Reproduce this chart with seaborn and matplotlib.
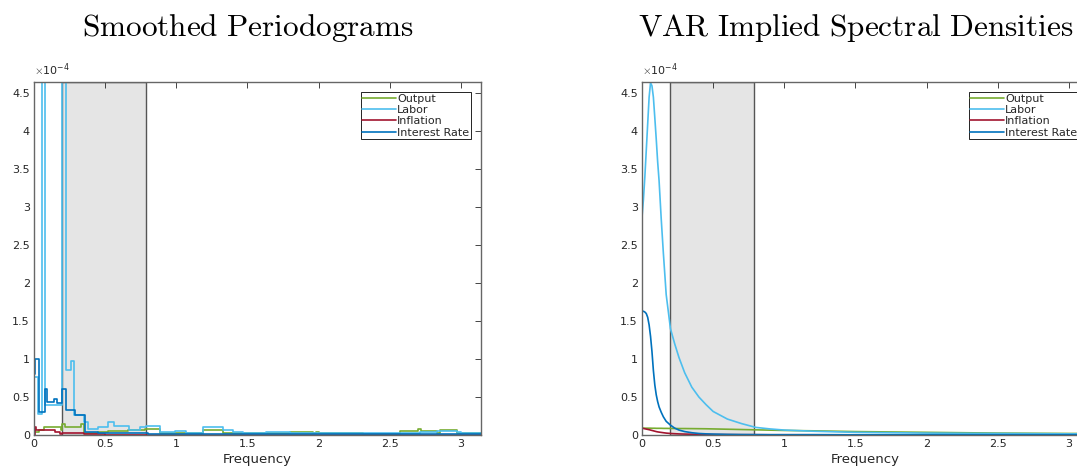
#!/usr/bin/env python3
"""
Smoothed periodograms vs VAR implied spectral densities (values in 1e-4 units).
"""

import numpy as np
import pandas as pd
import matplotlib
matplotlib.use("Agg")
import matplotlib.pyplot as plt
import seaborn as sns

PI = np.pi
SERIES = ["Output", "Labor", "Inflation", "Interest Rate"]
COLORS = {"Output": "#77AC30", "Labor": "#4DBEEE",
          "Inflation": "#A2142F", "Interest Rate": "#0072BD"}

# business cycle band (8-32 quarters)
BAND_LO = 2 * PI / 32
BAND_HI = 2 * PI / 8

# ---- smoothed periodograms (step breakpoints, x 1e-4) ----
pg_freq_output = [0, 0.035, 0.07, 0.19, 0.2, 0.22, 0.33, 0.35, 0.45, 0.52, 0.66,
                  0.78, 0.886, 0.99, 1.19, 1.33, 1.8, 1.96, 1.98, 2.0, 2.29,
                  2.31, 2.57, 2.7, 2.72, 2.83, 2.85, 2.97, 3.04, PI]
pg_output = [0.035, 0.06, 0.1, 0.06, 0.15, 0.1, 0.15, 0.02, 0.035, 0.05, 0.06,
             0.08, 0.02, 0.03, 0.07, 0.03, 0.04, 0.02, 0.04, 0.02, 0.03,
             0.01, 0.05, 0.08, 0.05, 0.02, 0.07, 0.02, 0.03, 0.03]

pg_freq_labor = [0, 0.028, 0.055, 0.075, 0.2, 0.225, 0.26, 0.28, 0.35, 0.38,
                 0.45, 0.52, 0.56, 0.67, 0.745, 0.79, 0.886, 0.957, 0.99,
                 1.07, 1.19, 1.33, 1.4, 1.47, 1.63, 1.8, 2.71, 2.83, 2.97,
                 3.0, PI]
pg_labor = [0.77, 0.28, 6.0, 0.4, 6.0, 0.85, 0.97, 0.27, 0.17, 0.08,
            0.1, 0.17, 0.12, 0.06, 0.1, 0.12, 0.04, 0.035, 0.05,
            0.03, 0.11, 0.07, 0.04, 0.02, 0.04, 0.02, 0.04, 0.05, 0.04,
            0.02, 0.02]

pg_freq_inflation = [0, 0.007, 0.016, 0.15, 0.185, 0.2, 0.35, 0.5, PI]
pg_inflation = [0.0, 0.1, 0.066, 0.035, 0.013, 0.03, 0.01, 0.005, 0.005]

pg_freq_interest = [0, 0.007, 0.035, 0.075, 0.094, 0.14, 0.16, 0.2, 0.225,
                    0.29, 0.36, 0.45, 0.8, 1.2, PI]
pg_interest = [0.8, 1.0, 0.3, 0.61, 0.44, 0.47, 0.42, 0.61, 0.33,
               0.27, 0.04, 0.02, 0.012, 0.008, 0.008]

# ---- VAR implied spectral densities (x 1e-4) ----
var_freq = [0, 0.01, 0.02, 0.03, 0.04, 0.05, 0.06, 0.07, 0.08, 0.09, 0.10,
            0.11, 0.12, 0.135, 0.15, 0.17, 0.2, 0.23, 0.26, 0.3, 0.35, 0.4,
            0.45, 0.5, 0.6, 0.7, 0.8, 0.9, 1.0, 1.2, 1.5, 2.0, 2.5, 3.0, PI]
var_labor = [2.87, 3.1, 3.4, 3.75, 4.1, 4.45, 4.64, 4.6, 4.45, 4.18, 3.9,
             3.6, 3.35, 2.85, 2.4, 1.85, 1.4, 1.2, 1.02, 0.82, 0.63, 0.5,
             0.4, 0.31, 0.21, 0.15, 0.1, 0.08, 0.065, 0.05, 0.035, 0.025,
             0.02, 0.015, 0.015]
var_interest = [1.63, 1.63, 1.62, 1.6, 1.55, 1.45, 1.3, 1.1, 0.85, 0.66, 0.53,
                0.44, 0.37, 0.3, 0.24, 0.18, 0.13, 0.09, 0.065, 0.045, 0.03,
                0.02, 0.015, 0.012, 0.008, 0.006, 0.005, 0.004, 0.004, 0.004,
                0.003, 0.003, 0.003, 0.003, 0.003]
var_output = [0.09, 0.09, 0.09, 0.09, 0.09, 0.09, 0.09, 0.089, 0.089, 0.089,
              0.088, 0.088, 0.088, 0.088, 0.087, 0.087, 0.086, 0.086, 0.085,
              0.085, 0.084, 0.083, 0.082, 0.08, 0.076, 0.072, 0.068, 0.064,
              0.06, 0.055, 0.045, 0.035, 0.025, 0.02, 0.02]
var_inflation = [0.09, 0.086, 0.082, 0.078, 0.074, 0.07, 0.065, 0.06, 0.055,
                 0.05, 0.045, 0.041, 0.038, 0.034, 0.03, 0.025, 0.02, 0.017,
                 0.014, 0.012, 0.01, 0.008, 0.007, 0.006, 0.005, 0.004, 0.004,
                 0.003, 0.003, 0.003, 0.002, 0.002, 0.002, 0.002, 0.002]

periodograms = {
    "Output": (pg_freq_output, pg_output),
    "Labor": (pg_freq_labor, pg_labor),
    "Inflation": (pg_freq_inflation, pg_inflation),
    "Interest Rate": (pg_freq_interest, pg_interest),
}
var_spectra = {
    "Output": var_output,
    "Labor": var_labor,
    "Inflation": var_inflation,
    "Interest Rate": var_interest,
}

sns.set_style("white")
plt.rcParams["font.family"] = ["DejaVu Sans"]
plt.rcParams["mathtext.fontset"] = "cm"

fig = plt.figure(figsize=(10.77, 4.75), dpi=100)
ax1 = fig.add_axes([34 / 1077, 40 / 475, 447 / 1077, 353 / 475])
ax2 = fig.add_axes([642 / 1077, 40 / 475, 447 / 1077, 353 / 475])


def style_axes(ax, title):
    ax.axvspan(BAND_LO, BAND_HI, ymin=0, ymax=1, facecolor="#e5e5e5",
               edgecolor="#555555", linewidth=1.0, zorder=0)
    ax.set_xlim(0, PI)
    ax.set_ylim(0, 4.65)
    ax.set_xticks([0, 0.5, 1, 1.5, 2, 2.5, 3])
    ax.set_xticklabels(["0", "0.5", "1", "1.5", "2", "2.5", "3"])
    ax.set_yticks(np.arange(0, 4.51, 0.5))
    ax.set_yticklabels(["0", "0.5", "1", "1.5", "2", "2.5", "3", "3.5", "4", "4.5"])
    ax.tick_params(direction="in", length=4, width=0.6, top=True, right=True,
                   labelsize=8, colors="#262626", pad=3)
    for sp in ax.spines.values():
        sp.set_color("#666666")
        sp.set_linewidth(1.0)
    ax.set_xlabel("Frequency", fontsize=9.5, color="#262626", labelpad=3)
    ax.set_ylabel("")
    ax.text(0, 1.01, r"$\times\mathregular{10^{-4}}$", transform=ax.transAxes,
            fontsize=8, ha="left", va="bottom", color="#262626",
            family="DejaVu Sans")
    # titles sit about 10 px left of the axes centre in the original
    ax.set_title(r"$\mathrm{" + title.replace(" ", r"\ ") + "}$",
                 fontsize=22.5, pad=33, color="black", x=0.5 - 10 / 447)
    leg = ax.legend(loc="upper right", fontsize=8, frameon=True,
                    fancybox=False, framealpha=1, edgecolor="black",
                    borderpad=0.15, labelspacing=0.12, handlelength=3.0,
                    handletextpad=0.15, borderaxespad=0.9)
    leg.get_frame().set_linewidth(0.6)


for name in SERIES:
    fx, fy = periodograms[name]
    sns.lineplot(x=fx, y=fy, ax=ax1, color=COLORS[name], label=name,
                 drawstyle="steps-post", estimator=None, sort=False,
                 linewidth=1.2)
style_axes(ax1, "Smoothed Periodograms")

var_df = pd.DataFrame({"freq": var_freq, **var_spectra})
for name in SERIES:
    sns.lineplot(data=var_df, x="freq", y=name, ax=ax2, color=COLORS[name],
                 label=name, estimator=None, linewidth=1.2)
style_axes(ax2, "VAR Implied Spectral Densities")

fig.savefig("out.png", dpi=100)
plt.close(fig)
